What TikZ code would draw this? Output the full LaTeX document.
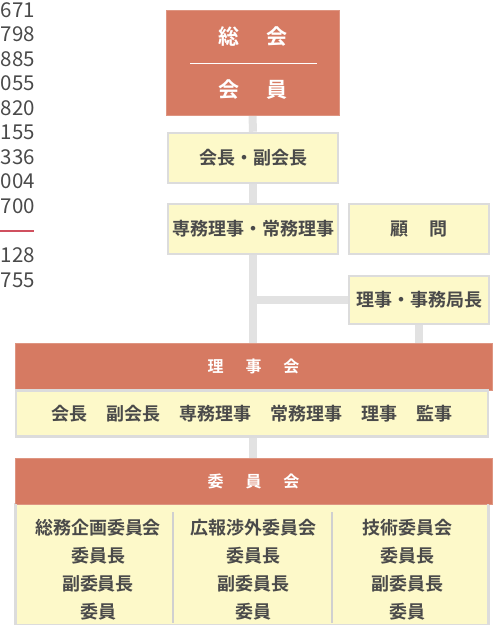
\documentclass[tikz,border=0pt]{standalone}
\usepackage{fontspec}
\setmainfont{Noto Sans CJK JP}[BoldFont={Noto Sans CJK JP Bold}]
\definecolor{redbox}{HTML}{D67A62}
\definecolor{yelbox}{HTML}{FDF9C9}
\definecolor{bordgray}{HTML}{DCDCDC}
\definecolor{bargray}{HTML}{E2E2E2}
\definecolor{sepgray}{HTML}{D0D0D0}
\definecolor{txtgray}{HTML}{4A4A4A}
\definecolor{numred}{HTML}{D0505F}
\pgfdeclarelayer{bg}
\pgfsetlayers{bg,main}
\tikzset{
  redhead/.style={fill=redbox, draw=redbox!80!white, line width=0.8pt, inner sep=0pt, text=white, font=\bfseries\fontsize{16}{16}\selectfont},
  yelbox/.style={fill=yelbox, draw=bordgray, line width=2.5pt, inner sep=0pt, text=txtgray, font=\bfseries\fontsize{18}{18}\selectfont},
  bar/.style={draw=bargray, line width=8pt},
  numtxt/.style={anchor=east, inner sep=0pt, text=txtgray, font=\fontsize{20.5}{20}\selectfont},
  coltxt/.style={align=center, inner sep=0pt, text=txtgray, font=\bfseries\fontsize{18}{28}\selectfont},
}
\begin{document}
\begin{tikzpicture}[x=1pt,y=-1pt]
\useasboundingbox (0,0) rectangle (496,625);
% left numbers
\foreach \t/\yy [count=\i] in {671/10,798/34.5,885/59,055/83.5,820/108,155/132.5,336/157,004/181.5,700/206,128/255.5,755/280}
  \node[numtxt] (num\i) at (35,\yy) {\t};
\coordinate (nl1) at (0,231);
\coordinate (nl2) at (34,231);
\draw[draw=numred, line width=1.2pt] (nl1) -- (nl2);
% boxes
\node[redhead, minimum width=173pt, minimum height=105pt] (soukai) at (252.5,62.5) {};
\coordinate (divl) at (190,63);
\coordinate (divr) at (317,63);
\draw[white, line width=1pt] (divl) -- (divr);
\node[text=white, font=\bfseries\fontsize{21}{21}\selectfont, inner sep=0pt] (soukaitxt) at (253,37) {総\hspace{27pt}会};
\node[text=white, font=\bfseries\fontsize{21}{21}\selectfont, inner sep=0pt] (kaiintxt) at (253,90) {会\hspace{27pt}員};
\node[yelbox, minimum width=170pt, minimum height=50pt] (kaicho) at (253,158) {会長・副会長};
\node[yelbox, minimum width=170pt, minimum height=50pt] (senmu) at (253,229) {専務理事・常務理事};
\node[yelbox, minimum width=140pt, minimum height=50pt] (komon) at (419,229) {顧\hspace{21pt}問};
\node[yelbox, minimum width=140pt, minimum height=48pt] (riji) at (419,300) {理事・事務局長};
\node[redhead, minimum width=477pt, minimum height=47pt] (rijikai) at (253.5,366.5) {理\hspace{22pt}事\hspace{22pt}会};
\node[yelbox, minimum width=472pt, minimum height=46pt] (rijimem) at (252,413.5) {会長\hspace{19pt}副会長\hspace{19pt}専務理事\hspace{19pt}常務理事\hspace{19pt}理事\hspace{19pt}監事};
\node[redhead, minimum width=477pt, minimum height=46pt] (iinkai) at (253.5,481) {委\hspace{22pt}員\hspace{22pt}会};
% bottom committee panel
\coordinate (pnl) at (15,504);
\coordinate (pnr) at (489,625);
\begin{pgfonlayer}{bg}
\fill[yelbox] (pnl) rectangle (pnr);
\end{pgfonlayer}
\coordinate (pl1) at (16.2,504);
\coordinate (pl2) at (16.2,625);
\coordinate (pr1) at (487.8,504);
\coordinate (pr2) at (487.8,625);
\draw[bordgray, line width=2.5pt] (pl1) -- (pl2);
\draw[bordgray, line width=2.5pt] (pr1) -- (pr2);
\coordinate (s1a) at (173,512);
\coordinate (s1b) at (173,623);
\coordinate (s2a) at (332,512);
\coordinate (s2b) at (332,623);
\draw[sepgray, line width=1.2pt] (s1a) -- (s1b);
\draw[sepgray, line width=1.2pt] (s2a) -- (s2b);
\node[coltxt] (col1) at (98,570) {総務企画委員会\\委員長\\副委員長\\委員};
\node[coltxt] (col2) at (253,570) {広報渉外委員会\\委員長\\副委員長\\委員};
\node[coltxt] (col3) at (407,570) {技術委員会\\委員長\\副委員長\\委員};
% connectors (bars)
\coordinate (hj) at (253,300);
\begin{pgfonlayer}{bg}
\draw[bar] (soukai.south) -- (kaicho.north);
\draw[bar] (kaicho.south) -- (senmu.north);
\draw[bar] (senmu.south) -- (senmu.south |- rijikai.north);
\draw[bar] (hj) -- (riji.west);
\draw[bar] (riji.south) -- (riji.south |- rijikai.north);
\draw[bar] (rijimem.south -| soukai.south) -- (iinkai.north -| soukai.south);
\end{pgfonlayer}
\end{tikzpicture}
\end{document}
